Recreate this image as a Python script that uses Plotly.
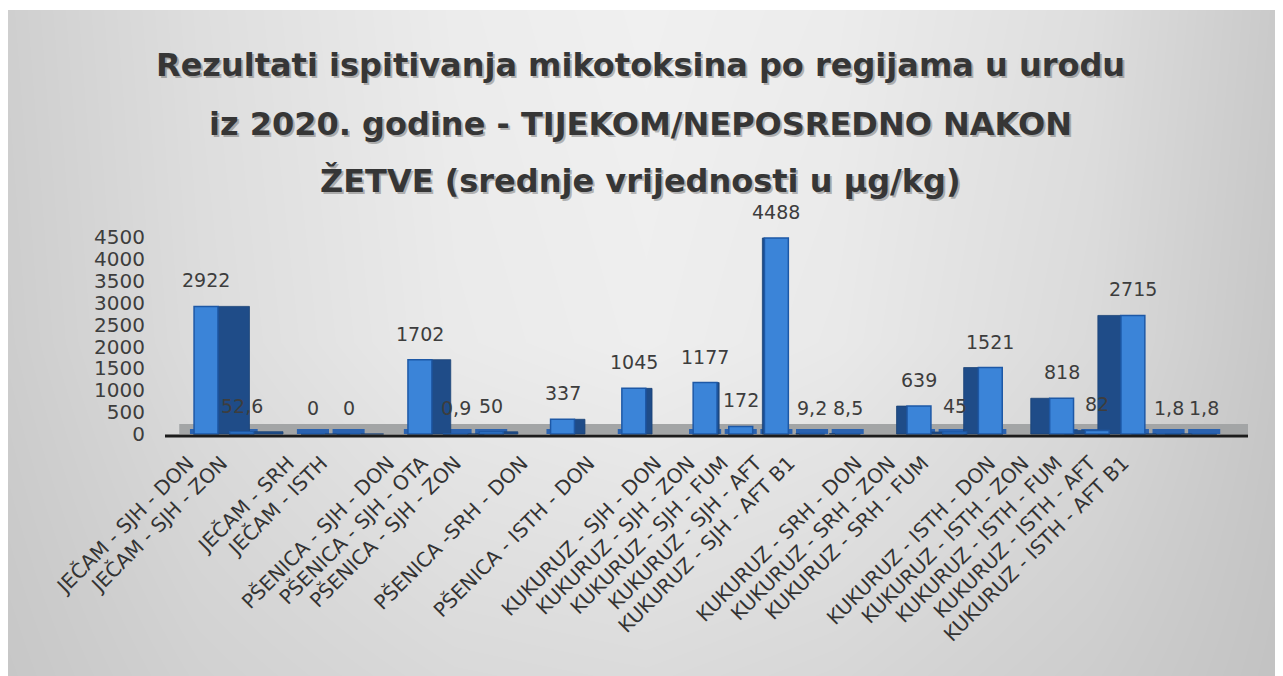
import plotly.graph_objects as go

# ---------------- data ----------------
title_lines = [
    "Rezultati ispitivanja mikotoksina po regijama u urodu",
    "iz 2020. godine - TIJEKOM/NEPOSREDNO NAKON",
    "ŽETVE (srednje vrijednosti u µg/kg)",
]

# "" marks an empty spacer category between groups (as in the original chart)
categories = [
    "JEČAM - SJH - DON", "JEČAM - SJH - ZON", "",
    "JEČAM - SRH", "JEČAM - ISTH", "",
    "PŠENICA - SJH - DON", "PŠENICA - SJH - OTA", "PŠENICA - SJH - ZON", "",
    "PŠENICA -SRH - DON", "",
    "PŠENICA - ISTH - DON", "",
    "KUKURUZ - SJH - DON", "KUKURUZ - SJH - ZON", "KUKURUZ - SJH - FUM",
    "KUKURUZ - SJH - AFT", "KUKURUZ - SJH - AFT B1", "",
    "KUKURUZ - SRH - DON", "KUKURUZ - SRH - ZON", "KUKURUZ - SRH - FUM", "",
    "KUKURUZ - ISTH - DON", "KUKURUZ - ISTH - ZON", "KUKURUZ - ISTH - FUM",
    "KUKURUZ - ISTH - AFT", "KUKURUZ - ISTH - AFT B1",
]
values = [
    2922, 52.6, None,
    0, 0, None,
    1702, 0.9, 50, None,
    337, None,
    1045, None,
    1177, 172, 4488, 9.2, 8.5, None,
    639, 45, 1521, None,
    818, 82, 2715, 1.8, 1.8,
]
ytick_vals = [0, 500, 1000, 1500, 2000, 2500, 3000, 3500, 4000, 4500]

# background gray levels (style table, left->right, bottom->top)
bg_x = [0, 0.15, 0.35, 0.5, 0.65, 0.85, 1]
bg_y = [0, 0.5, 1]
bg_levels = [
    [199, 209, 217, 219, 215, 205, 194],
    [205, 220, 234, 238, 233, 218, 198],
    [207, 222, 236, 240, 236, 222, 201],
]

FONT = "DejaVu Sans"

# ---------------- geometry (layout only) ----------------
# The page body has an 8px margin, so the figure starts at screen (8, 8).
OFF = 8
W, H = 1283 - OFF, 676 - OFF


def fx(sx):
    return sx - OFF


def fy(sy):
    return sy - OFF


PLOT_L, PLOT_R = fx(165), fx(1248)
Y0_PX = fy(434.0)          # pixel of value 0
PX_PER_UNIT = 196.0 / 4488
YMIN, YMAX = -150, 4700
bot_px = Y0_PX - YMIN * PX_PER_UNIT
top_px = Y0_PX - YMAX * PX_PER_UNIT

SLOT_PX = 35.65
FIRST_PX = fx(206.0)
x_r0 = -(FIRST_PX - PLOT_L) / SLOT_PX
x_r1 = x_r0 + (PLOT_R - PLOT_L) / SLOT_PX

LAB_SLOT_PX = 33.4
LAB_FIRST_PX = fx(188.0)
l_r0 = -(LAB_FIRST_PX - PLOT_L) / LAB_SLOT_PX
l_r1 = l_r0 + (PLOT_R - PLOT_L) / LAB_SLOT_PX

FRONT_W = 0.67
VANISH = 15.0

idx = [i for i, c in enumerate(categories) if c]
vals = [values[i] for i in idx]
names = [categories[i] for i in idx]


def fmt(v):
    if float(v).is_integer():
        return str(int(v))
    return str(v).replace(".", ",")


def px_to_val(sy):
    return (Y0_PX - fy(sy)) / PX_PER_UNIT


# side face widths / offsets (pseudo-3D perspective)
side_w, side_off = [], []
for i in idx:
    w = 2.1 * abs(i - VANISH) / SLOT_PX
    side_w.append(w)
    side_off.append(FRONT_W / 2 if i < VANISH else -FRONT_W / 2 - w)

fig = go.Figure()

# background gradient
fig.add_trace(go.Heatmap(
    x=bg_x, y=bg_y, z=bg_levels, zsmooth="best",
    colorscale=[[0, "rgb(190,190,190)"], [1, "rgb(245,245,245)"]],
    zmin=190, zmax=245, showscale=False, hoverinfo="skip",
    xaxis="x", yaxis="y",
))

# bar footprints on the floor
fig.add_trace(go.Bar(
    x=idx, y=[px_to_val(429)] * len(idx), width=0.9, offset=-0.45,
    marker=dict(color="#2a62b0", line=dict(width=0)),
    xaxis="x2", yaxis="y2", hoverinfo="skip", showlegend=False,
))
# side faces
fig.add_trace(go.Bar(
    x=idx, y=vals, width=side_w, offset=side_off,
    marker=dict(color="#1f4c88", line=dict(color="#1a4276", width=0.8)),
    xaxis="x2", yaxis="y2", hoverinfo="skip", showlegend=False,
))
# front faces
fig.add_trace(go.Bar(
    x=idx, y=vals, width=FRONT_W,
    marker=dict(color="#3b84d8", line=dict(color="#1d58a6", width=1.5)),
    xaxis="x2", yaxis="y2", showlegend=False,
    hovertext=names, hoverinfo="text+y",
))
# invisible carrier for the category-label axis
fig.add_trace(go.Scatter(
    x=idx, y=[0] * len(idx), mode="markers", marker=dict(opacity=0),
    xaxis="x3", yaxis="y2", hoverinfo="skip", showlegend=False,
))

shapes = [
    dict(type="rect", xref="x2", yref="y2", x0=x_r0 + 0.4, x1=x_r1,
         y0=0, y1=px_to_val(424), fillcolor="#a3a5a6", line=dict(width=0),
         layer="below"),
    dict(type="line", xref="x2", yref="y2", x0=x_r0, x1=x_r1,
         y0=px_to_val(436), y1=px_to_val(436),
         line=dict(color="#1c1c1c", width=3), layer="above"),
    # thin white strip at the very top of the panel
    dict(type="rect", xref="paper", yref="paper", x0=0, x1=1,
         y0=1 - 2 / H, y1=1, fillcolor="white", line=dict(width=0),
         layer="above"),
]

annotations = []
title_px = [65, 124, 181]
for line, py in zip(title_lines, title_px):
    for col, dx, dy in (("rgba(0,0,0,0.25)", 2, -2), ("#363636", 0, 0)):
        annotations.append(dict(
            text="<b>%s</b>" % line, x=(640 - OFF) / W, y=1 - fy(py) / H,
            xref="paper", yref="paper",
            xanchor="center", yanchor="middle", showarrow=False,
            xshift=dx, yshift=dy,
            font=dict(family=FONT, size=32, color=col),
        ))

for i, v in zip(idx, vals):
    annotations.append(dict(
        text=fmt(v), x=i, y=v, xref="x2", yref="y2", xanchor="center",
        yanchor="middle", yshift=26, showarrow=False,
        font=dict(family=FONT, size=19, color="#3d3d3d"),
    ))

fig.update_layout(
    width=W, height=H,
    margin=dict(l=0, r=0, t=0, b=0, autoexpand=False),
    paper_bgcolor="white", plot_bgcolor="rgba(0,0,0,0)",
    barmode="overlay", showlegend=False,
    shapes=shapes, annotations=annotations,
    xaxis=dict(domain=[0, 1], range=[0, 1], visible=False,
               fixedrange=True, automargin=False),
    yaxis=dict(domain=[0, 1], range=[0, 1], visible=False,
               fixedrange=True, automargin=False),
    xaxis2=dict(domain=[PLOT_L / W, PLOT_R / W], range=[x_r0, x_r1],
                anchor="y2", showticklabels=False, showgrid=False,
                zeroline=False, showline=False, ticks="", automargin=False),
    yaxis2=dict(domain=[(H - bot_px) / H, (H - top_px) / H], range=[YMIN, YMAX],
                anchor="x2", tickvals=ytick_vals, showgrid=False, zeroline=False,
                showline=False, ticks="outside", ticklen=15,
                tickcolor="rgba(0,0,0,0)", automargin=False,
                tickfont=dict(family=FONT, size=20, color="#3d3d3d")),
    xaxis3=dict(overlaying="x2", anchor="y2", side="bottom", range=[l_r0, l_r1],
                tickvals=idx, ticktext=names, tickangle=-45, automargin=False,
                showgrid=False, zeroline=False, showline=False,
                ticks="outside", ticklen=2, tickcolor="rgba(0,0,0,0)",
                tickfont=dict(family=FONT, size=20, color="#333333")),
)

fig.write_html("out.html")
